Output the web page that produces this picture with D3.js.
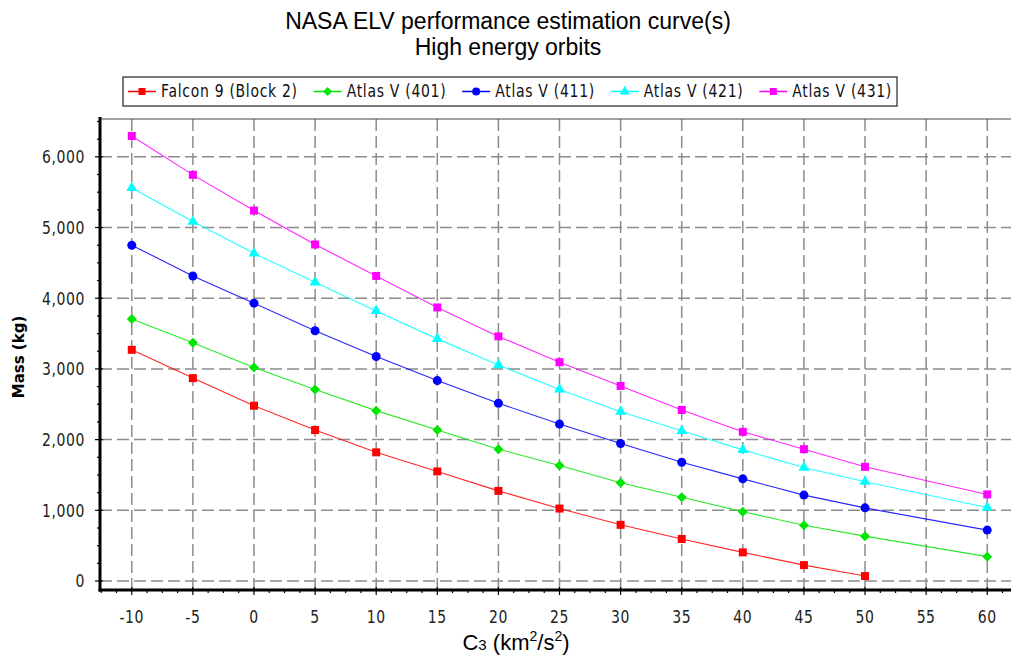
<!DOCTYPE html>
<html><head><meta charset="utf-8">
<script src="https://cdn.jsdelivr.net/npm/d3@7"></script>
<style>body{margin:0;background:#fff;overflow:hidden} svg{display:block}</style>
</head><body><svg id="c" width="1011" height="656"></svg>
<script>
// ---- data ----
const titleLines = ["NASA ELV performance estimation curve(s)", "High energy orbits"];
const seriesNames = ["Falcon 9 (Block 2)", "Atlas V (401)", "Atlas V (411)", "Atlas V (421)", "Atlas V (431)"];
const seriesColors = ["#ff0000", "#00e600", "#0000ff", "#00ffff", "#ff00ff"];
const seriesShapes = ["square", "diamond", "circle", "triangle", "square"];
const c3Falcon = [-10, -5, 0, 5, 10, 15, 20, 25, 30, 35, 40, 45, 50];
const c3Atlas = [-10, -5, 0, 5, 10, 15, 20, 25, 30, 35, 40, 45, 50, 60];
const falcon9 = [3270, 2870, 2480, 2135, 1820, 1550, 1275, 1025, 795, 595, 405, 225, 70];
const atlas401 = [3705, 3370, 3020, 2710, 2410, 2135, 1865, 1635, 1390, 1185, 980, 790, 635, 345];
const atlas411 = [4750, 4315, 3930, 3540, 3175, 2835, 2515, 2220, 1945, 1680, 1445, 1215, 1035, 720];
const atlas421 = [5560, 5085, 4635, 4225, 3820, 3425, 3055, 2710, 2395, 2125, 1855, 1605, 1405, 1040];
const atlas431 = [6295, 5745, 5240, 4760, 4315, 3870, 3460, 3095, 2760, 2420, 2110, 1865, 1615, 1225];
const xTicks = [-10, -5, 0, 5, 10, 15, 20, 25, 30, 35, 40, 45, 50, 55, 60];
const yTicks = [0, 1000, 2000, 3000, 4000, 5000, 6000];
const yLabel = "Mass (kg)";

const seriesX = [c3Falcon, c3Atlas, c3Atlas, c3Atlas, c3Atlas];
const seriesY = [falcon9, atlas401, atlas411, atlas421, atlas431];

// ---- layout ----
const svg = d3.select('#c');
const L = 100, R = 1019, T = 119, B = 590;
const x = d3.scaleLinear().domain([-12.6, 62.6]).range([L, R]);
const y = d3.scaleLinear().domain([-127, 6535]).range([B, T]);
const SY = 1.25; // vertical stretch of the small fonts
const smallFont = "DejaVu Sans";

// title
svg.selectAll('text.title').data(titleLines).join('text')
  .attr('class', 'title')
  .attr('x', 508).attr('y', (d, i) => 29 + i * 26)
  .attr('text-anchor', 'middle')
  .attr('font-family', 'Liberation Sans, Arial, sans-serif')
  .attr('font-size', 23).attr('fill', '#000')
  .text(d => d);

// grid
const grid = svg.append('g').attr('stroke', '#8c8c8c').attr('stroke-width', 1.5).attr('stroke-dasharray', '12,5');
grid.selectAll('line.gx').data(xTicks).join('line')
  .attr('x1', d => x(d)).attr('x2', d => x(d)).attr('y1', T).attr('y2', B);
grid.selectAll('line.gy').data(yTicks).join('line')
  .attr('y1', d => y(d)).attr('y2', d => y(d)).attr('x1', L).attr('x2', R);

// plot top border
svg.append('line').attr('x1', L).attr('x2', R).attr('y1', T).attr('y2', T).attr('stroke', '#444').attr('stroke-width', 1.2);

// series
function symbolPath(shape, s) {
  if (shape === 'square') return d3.symbol(d3.symbolSquare, s * s)();
  if (shape === 'circle') return d3.symbol(d3.symbolCircle, Math.PI * (s / 2) * (s / 2))();
  if (shape === 'triangle') return d3.symbol(d3.symbolTriangle, s * s * 0.433)();
  const h = s / 2; return `M0,${-h}L${h},0L0,${h}L${-h},0Z`;
}
const markerSize = [8, 10, 9, 11, 8];
const line = d3.line();
seriesY.forEach((vals, k) => {
  const pts = vals.map((v, i) => [x(seriesX[k][i]), y(v)]);
  svg.append('path').attr('d', line(pts)).attr('fill', 'none')
    .attr('stroke', seriesColors[k]).attr('stroke-width', 1.1).attr('stroke-opacity', 0.85);
  svg.append('g').selectAll('path').data(pts).join('path')
    .attr('transform', d => `translate(${d[0]},${d[1]})`)
    .attr('d', symbolPath(seriesShapes[k], markerSize[k]))
    .attr('fill', seriesColors[k]);
});

// axes lines
svg.append('line').attr('x1', L).attr('x2', L).attr('y1', T - 2).attr('y2', B + 1.5).attr('stroke', '#000').attr('stroke-width', 3);
svg.append('line').attr('x1', L - 1.5).attr('x2', R).attr('y1', B).attr('y2', B).attr('stroke', '#000').attr('stroke-width', 3);

// ticks
const xMinor = d3.range(-10, 51).filter(i => i % 4 !== 0).map(i => i * 1.25);
const yMinor = d3.range(0, 27).filter(i => i % 4 !== 0).map(i => i * 250);
const tk = svg.append('g').attr('stroke', '#000').attr('stroke-width', 1.2);
tk.selectAll('line.xm').data(xTicks).join('line').attr('x1', d => x(d)).attr('x2', d => x(d)).attr('y1', B - 3).attr('y2', B + 5);
tk.selectAll('line.xn').data(xMinor).join('line').attr('x1', d => x(d)).attr('x2', d => x(d)).attr('y1', B).attr('y2', B + 3);
tk.selectAll('line.ym').data(yTicks).join('line').attr('y1', d => y(d)).attr('y2', d => y(d)).attr('x1', L - 5).attr('x2', L + 3);
tk.selectAll('line.yn').data(yMinor).join('line').attr('y1', d => y(d)).attr('y2', d => y(d)).attr('x1', L - 3).attr('x2', L);

// tick labels
svg.selectAll('text.xl').data(xTicks).join('text').attr('class', 'xl')
  .attr('transform', d => `translate(${x(d)},623) scale(1,${SY})`)
  .attr('text-anchor', 'middle').attr('font-family', smallFont).attr('font-size', 14)
  .attr('letter-spacing', 0.6).attr('fill', '#222')
  .text(d => d);
svg.selectAll('text.yl').data(yTicks).join('text').attr('class', 'yl')
  .attr('transform', d => `translate(85,${y(d) + 6.3}) scale(1,${SY})`)
  .attr('text-anchor', 'end').attr('font-family', smallFont).attr('font-size', 14)
  .attr('letter-spacing', 0.6).attr('fill', '#222')
  .text(d => d3.format(',')(d));

// axis titles
const xt = svg.append('text').attr('x', 516).attr('y', 650).attr('text-anchor', 'middle')
  .attr('font-family', 'Liberation Sans, Arial, sans-serif').attr('font-size', 22).attr('fill', '#000');
xt.append('tspan').text('C');
xt.append('tspan').attr('font-size', 15).text('3');
xt.append('tspan').text(' (km');
xt.append('tspan').attr('font-size', 14).attr('dy', -9).text('2');
xt.append('tspan').attr('dy', 9).text('/s');
xt.append('tspan').attr('font-size', 14).attr('dy', -9).text('2');
xt.append('tspan').attr('dy', 9).text(')');

svg.append('text').attr('transform', 'translate(24,357) rotate(-90)')
  .attr('text-anchor', 'middle').attr('font-family', smallFont).attr('font-weight', 'bold')
  .attr('font-size', 15).attr('fill', '#000').text(yLabel);

// legend
const LX0 = 123, LX1 = 897, LY0 = 77, LY1 = 106;
svg.append('rect').attr('x', LX0).attr('y', LY0).attr('width', LX1 - LX0).attr('height', LY1 - LY0)
  .attr('fill', '#fff').attr('stroke', '#333').attr('stroke-width', 1.3);
const lg = svg.append('g');
const items = seriesNames.map((n, k) => {
  const g = lg.append('g');
  g.append('line').attr('x1', 0).attr('x2', 28).attr('y1', 0).attr('y2', 0).attr('stroke', seriesColors[k]).attr('stroke-width', 1.5);
  g.append('path').attr('transform', 'translate(14,0)').attr('d', symbolPath(seriesShapes[k], markerSize[k] - 1)).attr('fill', seriesColors[k]);
  const t = g.append('text').attr('transform', `translate(33,${5.5}) scale(1,${SY})`)
    .attr('font-family', smallFont).attr('font-size', 14).attr('letter-spacing', 0.7)
    .attr('fill', '#111').text(n);
  return { g, w: 33 + t.node().getComputedTextLength() };
});
const total = d3.sum(items, d => d.w);
const gap = ((LX1 - LX0) - 10 - total) / (items.length - 1);
let cx = LX0 + 5;
items.forEach(it => { it.g.attr('transform', `translate(${cx},${(LY0 + LY1) / 2})`); cx += it.w + gap; });
</script>
</body></html>
